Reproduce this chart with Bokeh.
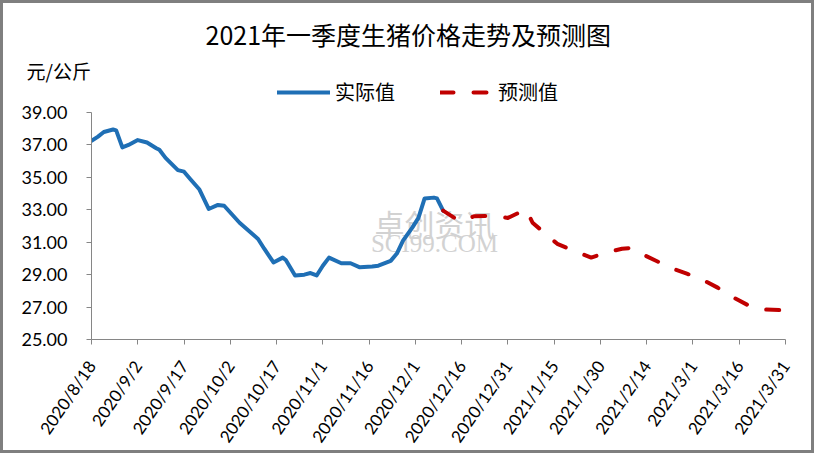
from datetime import date
from bokeh.plotting import figure
from bokeh.models import Range1d, FixedTicker, Label, Legend, LegendItem, PrintfTickFormatter, Title
from bokeh.embed import file_html
from bokeh.resources import INLINE

START = "2020-08-18"

actual_dates = [
    "2020-08-18", "2020-08-20", "2020-08-22", "2020-08-25", "2020-08-26", "2020-08-28",
    "2020-08-30", "2020-09-02", "2020-09-05", "2020-09-08", "2020-09-09", "2020-09-11",
    "2020-09-15", "2020-09-17", "2020-09-19", "2020-09-22", "2020-09-25", "2020-09-28",
    "2020-09-30", "2020-10-05", "2020-10-11", "2020-10-13", "2020-10-16", "2020-10-19",
    "2020-10-20", "2020-10-23", "2020-10-26", "2020-10-28", "2020-10-30", "2020-11-01",
    "2020-11-03", "2020-11-07", "2020-11-10", "2020-11-13", "2020-11-17", "2020-11-19",
    "2020-11-23", "2020-11-25", "2020-11-27", "2020-11-30", "2020-12-02", "2020-12-04",
    "2020-12-07", "2020-12-08", "2020-12-10",
]
actual_values = [
    37.25, 37.5, 37.8, 37.95, 37.9, 36.85,
    37.0, 37.3, 37.15, 36.8, 36.7, 36.2,
    35.45, 35.35, 34.9, 34.25, 33.05, 33.3,
    33.25, 32.2, 31.2, 30.6, 29.75, 30.05,
    29.9, 28.95, 29.0, 29.1, 28.95, 29.55,
    30.05, 29.7, 29.7, 29.45, 29.5, 29.55,
    29.85, 30.3, 31.1, 31.9, 32.5, 33.7,
    33.75, 33.7, 32.95,
]

forecast_dates = [
    "2020-12-10", "2020-12-15", "2020-12-17", "2020-12-20", "2020-12-25", "2020-12-31",
    "2021-01-05", "2021-01-06", "2021-01-08", "2021-01-12", "2021-01-16", "2021-01-21",
    "2021-01-27", "2021-02-01", "2021-02-06", "2021-02-09", "2021-02-11", "2021-02-17",
    "2021-02-22", "2021-02-27", "2021-03-04", "2021-03-09", "2021-03-14", "2021-03-19",
    "2021-03-24", "2021-03-31",
]
forecast_values = [
    32.95, 32.33, 32.35, 32.6, 32.62, 32.5,
    32.95, 33.0, 32.2, 31.55, 30.9, 30.5,
    30.05, 30.36, 30.6, 30.65, 30.4, 29.86,
    29.4, 29.06, 28.7, 28.2, 27.6, 27.1,
    26.85, 26.8,
]

tick_dates = [
    "2020-08-18", "2020-09-02", "2020-09-17", "2020-10-02", "2020-10-17", "2020-11-01",
    "2020-11-16", "2020-12-01", "2020-12-16", "2020-12-31", "2021-01-15", "2021-01-30",
    "2021-02-14", "2021-03-01", "2021-03-16", "2021-03-31",
]
tick_labels = [
    "2020/8/18", "2020/9/2", "2020/9/17", "2020/10/2", "2020/10/17", "2020/11/1",
    "2020/11/16", "2020/12/1", "2020/12/16", "2020/12/31", "2021/1/15", "2021/1/30",
    "2021/2/14", "2021/3/1", "2021/3/16", "2021/3/31",
]
y_ticks = [25, 27, 29, 31, 33, 35, 37, 39]

title_text = "2021年一季度生猪价格走势及预测图"
unit_text = "元/公斤"
actual_name = "实际值"
forecast_name = "预测值"

start = date.fromisoformat(START)


def days(lst):
    return [(date.fromisoformat(s) - start).days for s in lst]


ax = days(actual_dates)
fx = days(forecast_dates)
tx = days(tick_dates)

# frame: canvas x 88..782, canvas y 72..336; value 39 sits at canvas y 109
FRAME_TOP, Y39, FRAME_BOTTOM = 72, 109, 336
px_per_unit = (FRAME_BOTTOM - Y39) / (y_ticks[-1] - y_ticks[0])
y_top = y_ticks[-1] + (Y39 - FRAME_TOP) / px_per_unit

p = figure(
    width=814, height=453,
    output_backend="svg", toolbar_location=None,
    x_range=Range1d(tx[0], tx[-1]), y_range=Range1d(y_ticks[0], y_top),
    min_border_left=88, min_border_right=32, min_border_top=FRAME_TOP,
    min_border_bottom=453 - FRAME_BOTTOM,
)
p.title_location = None
p.styles = {"border": "3px solid #7f7f7f"}
p.background_fill_color = "white"
p.border_fill_color = "white"
p.outline_line_color = None
p.xgrid.visible = False
p.ygrid.visible = False

CJK = "Noto Sans CJK SC"
NUM = "Lato"

# watermark
p.add_layout(Label(x=343, y=117, x_units="screen", y_units="screen", text="卓创资讯",
                   text_font=CJK, text_font_size="30px", text_color="#d2d2d2",
                   text_align="center", text_baseline="middle", level="underlay"))
p.add_layout(Label(x=343, y=96, x_units="screen", y_units="screen", text="SCI99.COM",
                   text_font="Liberation Serif", text_font_size="25px", text_color="#d2d2d2",
                   text_align="center", text_baseline="middle", level="underlay"))

r_act = p.line(ax, actual_values, line_color="#1f6fb5", line_width=4,
               line_join="round", line_cap="round")
r_fc = p.line(fx, forecast_values, line_color="#c00000", line_width=4,
              line_dash="13 20", line_join="round", line_cap="round")

# axes
p.xaxis.ticker = FixedTicker(ticks=tx)
p.xaxis.major_label_overrides = {t: l for t, l in zip(tx, tick_labels)}
p.xaxis.major_label_orientation = 0.97
p.yaxis.ticker = FixedTicker(ticks=y_ticks)
p.yaxis.bounds = (y_ticks[0], y_ticks[-1])
p.yaxis.formatter = PrintfTickFormatter(format="%.2f")
for axis in (p.xaxis, p.yaxis):
    axis.axis_line_color = "#868686"
    axis.axis_line_width = 1
    axis.major_tick_line_color = "#868686"
    axis.major_tick_in = 0
    axis.major_tick_out = 5
    axis.minor_tick_line_color = None
    axis.major_label_text_font = NUM
    axis.major_label_text_color = "#000000"
p.yaxis.major_label_text_font_size = "18px"
p.yaxis.major_label_standoff = 19
p.xaxis.major_label_text_font_size = "17px"
p.xaxis.major_label_standoff = 18

# unit label (nearest the frame) and main title above it
p.add_layout(Title(text=unit_text, align="left", offset=-65, standoff=-16,
                   text_font=CJK, text_font_size="19px", text_font_style="normal",
                   text_color="#000000"), "above")
p.add_layout(Title(text=title_text, align="left", offset=114, standoff=21,
                   text_font=CJK, text_font_size="25px", text_font_style="normal",
                   text_color="#000000"), "above")

legend = Legend(
    items=[LegendItem(label=actual_name, renderers=[r_act]),
           LegendItem(label=forecast_name, renderers=[r_fc])],
    location=(186, FRAME_BOTTOM - 89 - 14), orientation="horizontal",
    glyph_width=53, glyph_height=28, label_height=28, label_standoff=5, spacing=45,
    padding=0, margin=0, border_line_color=None, background_fill_alpha=0,
    label_text_font=CJK, label_text_font_size="20px", label_text_color="#000000",
)
p.add_layout(legend, "center")

open("out.html", "w").write(file_html(p, INLINE))
